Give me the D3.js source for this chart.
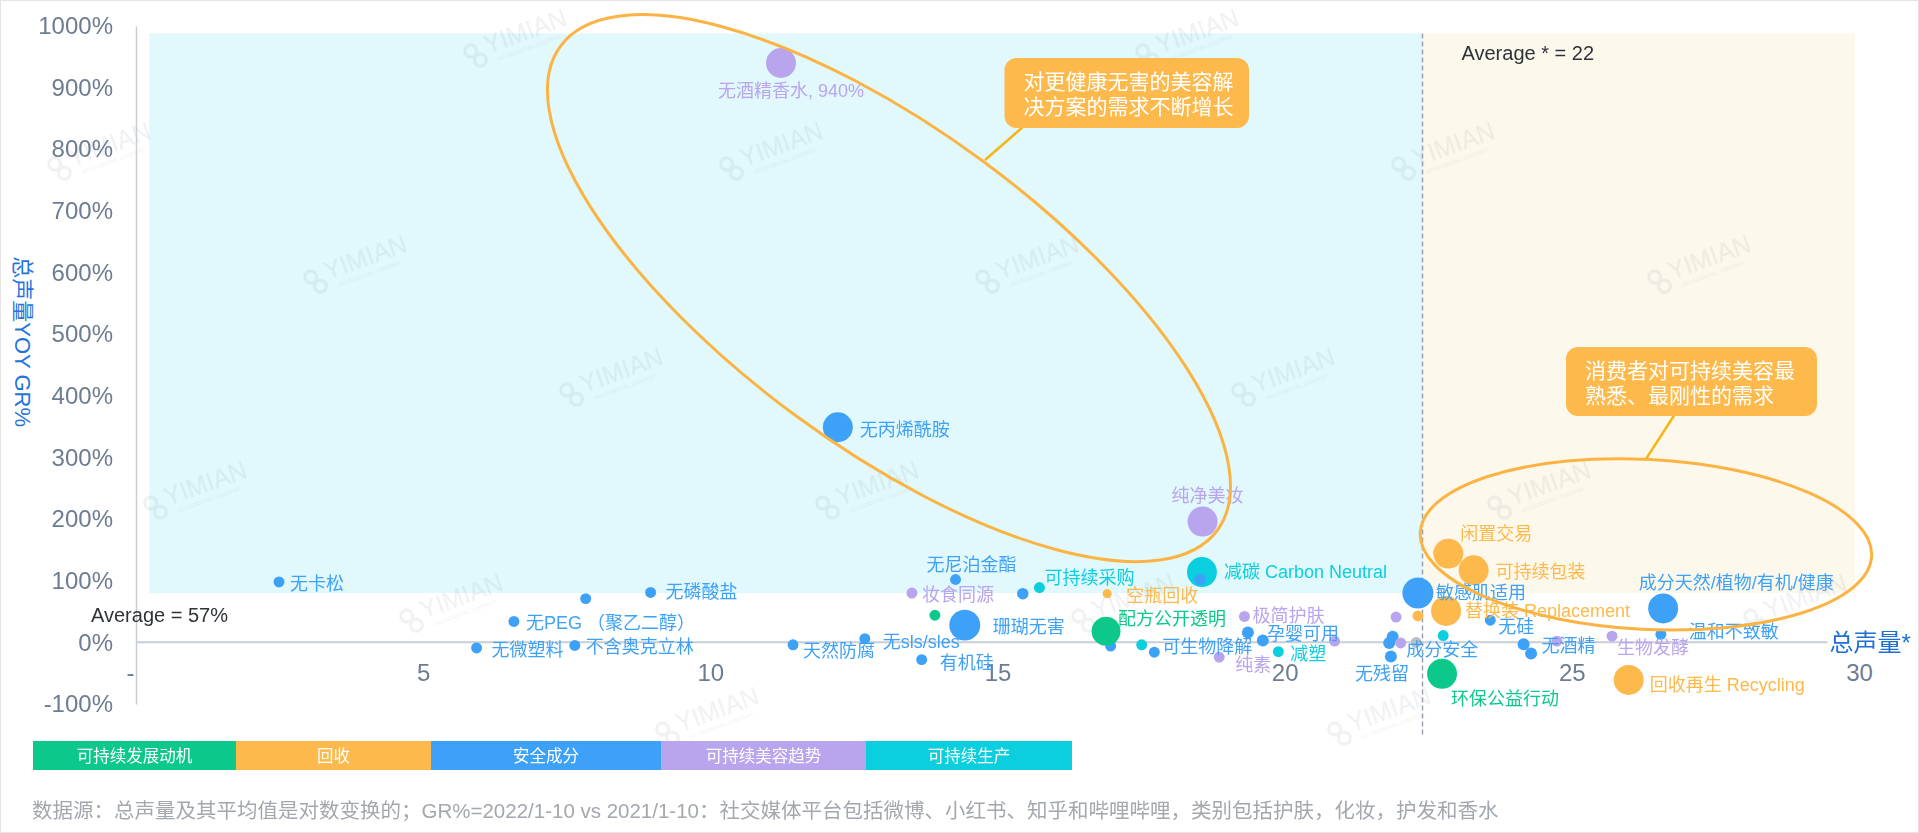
<!DOCTYPE html>
<html>
<head>
<meta charset="utf-8">
<script src="https://cdn.jsdelivr.net/npm/d3@7"></script>
<style>
  body { margin: 0; background: #fff; }
  svg { display: block; font-family: "Liberation Sans", "Noto Sans CJK SC", sans-serif; }
</style>
</head>
<body>
<div id="chart"></div>
<script>

// categories (legend order) + an unlisted grey one
const categories = ["可持续发展动机", "回收", "安全成分", "可持续美容趋势", "可持续生产", "其他"];
const catColors = ["#0cc98b", "#fdb94b", "#3ea1f8", "#b9a4ee", "#0bcfdf", "#b9bec7"];

// one entry per bubble
const names = [
  "无卡松", "", "无磷酸盐", "无PEG （聚乙二醇）", "无微塑料", "不含奥克立林", "天然防腐", "无sls/sles", "有机硅",
  "无酒精香水, 940%", "无丙烯酰胺", "纯净美妆", "减碳 Carbon Neutral", "", "无尼泊金酯", "可持续采购", "",
  "妆食同源", "", "珊瑚无害", "空瓶回收", "", "配方公开透明", "", "可生物降解", "极简护肤", "孕婴可用", "",
  "纯素", "减塑", "", "", "", "敏感肌适用", "", "成分安全", "无残留", "", "", "", "环保公益行动",
  "闲置交易", "可持续包装", "替换装 Replacement", "无硅", "无酒精", "", "", "生物发酵",
  "回收再生 Recycling", "成分天然/植物/有机/健康", "温和不致敏"
];
// 总声量* (log transformed)
const volume = [
  2.49, 7.83, 8.96, 6.58, 5.93, 7.64, 11.44, 12.69, 13.68,
  11.23, 12.22, 18.57, 18.56, 18.53, 14.27, 15.73, 15.44,
  13.51, 13.91, 14.43, 16.91, 16.97, 16.89, 17.51, 17.73, 19.30, 19.36, 19.62,
  18.86, 19.89, 20.87, 21.94, 22.32, 22.32, 21.88, 21.82, 21.85, 22.02, 22.29, 22.76, 22.74,
  22.85, 23.29, 22.81, 23.58, 24.16, 24.29, 24.74, 25.70,
  25.99, 26.59, 26.55
];
// 总声量YOY GR%
const growth = [
  98, 71, 81, 34, -9, -5, -4, 6, -28,
  940, 349, 196, 114, 102, 102, 89, 79,
  80, 44, 28, 79, -6, 18, -4, -16, 42, 16, 3,
  -24, -15, 2, 41, 43, 80, 9, -1, -23, -1, 0, 11, -51,
  144, 117, 51, 36, -3, -18, 2, 10,
  -61, 55, 13
];
// relative bubble size
const bubble = [
  1, 1, 1, 1, 1, 1, 1, 1, 1,
  7.5, 7.5, 7.5, 7.5, 1.1, 1, 1, 1.1,
  1, 1, 8, 0.7, 1, 7, 1, 1, 1, 1.2, 1.2,
  1, 1, 1, 1, 1, 8, 1.2, 1.2, 1.2, 1, 1, 1, 7.5,
  7.5, 7.5, 7.5, 1, 1.2, 1.2, 1, 1,
  7.5, 7.5, 1
];
const cats = [
  2, 2, 2, 2, 2, 2, 2, 2, 2,
  3, 2, 3, 4, 2, 2, 4, 2,
  3, 0, 2, 1, 2, 0, 4, 2, 3, 2, 2,
  3, 4, 3, 3, 1, 2, 2, 2, 2, 3, 5, 4, 0,
  1, 1, 1, 2, 2, 2, 3, 3,
  1, 2, 2
];

const xTicks = [0, 5, 10, 15, 20, 25, 30];
const yTicks = [-100, 0, 100, 200, 300, 400, 500, 600, 700, 800, 900, 1000];
const avgVolume = 22.4, avgGrowth = 57;

const callouts = [
  ["对更健康无害的美容解", "决方案的需求不断增长"],
  ["消费者对可持续美容最", "熟悉、最刚性的需求"]
];
const footnote = "数据源：总声量及其平均值是对数变换的；GR%=2022/1-10 vs 2021/1-10：社交媒体平台包括微博、小红书、知乎和哔哩哔哩，类别包括护肤，化妆，护发和香水";

// label placement (dx, dy from bubble centre, anchor) - layout only
const labelPos = {
  0: [11, 2, "start"], 2: [15, 0, "start"], 3: [12, 2, "start"], 4: [15, 2, "start"], 5: [11, 2, "start"],
  6: [10, 6, "start"], 7: [18, 3, "start"], 8: [18, 3, "start"], 9: [10, 28, "middle"], 10: [22, 3, "start"],
  11: [5, -26, "middle"], 12: [22, 0, "start"], 14: [16, -14, "middle"], 15: [5, -10, "start"],
  17: [10, 2, "start"], 19: [28, 2, "start"], 20: [19, 2, "start"], 22: [12, -12, "start"],
  24: [8, -5, "start"], 25: [8, 0, "start"], 26: [19, 1, "start"], 28: [16, 8, "start"], 29: [12, 2, "start"],
  33: [18, 0, "start"], 35: [17, 7, "start"], 36: [-9, 17, "middle"], 40: [9, 25, "start"],
  41: [12, -20, "start"], 42: [22, 2, "start"], 43: [19, 0, "start"], 44: [8, 7, "start"],
  45: [18, 2, "start"], 48: [5, 12, "start"], 49: [21, 5, "start"], 50: [73, -25, "middle"], 51: [28, -2, "start"]
};

const W = 1919, H = 833;
const svg = d3.select("#chart").append("svg")
  .attr("width", W)
  .attr("height", H);

const x = d3.scaleLinear().domain([0, 30]).range([136, 1859]);
const y = d3.scaleLinear().domain([-100, 1000]).range([704, 26]);
const r = d3.scaleSqrt().domain([0, 10]).range([0, 17.3]);

// quadrant shading
svg.append("rect")
  .attr("x", x(0.23)).attr("y", y(988))
  .attr("width", x(avgVolume) - x(0.23)).attr("height", y(80) - y(988))
  .attr("fill", "#e1f9fc");
svg.append("rect")
  .attr("x", x(avgVolume)).attr("y", y(988))
  .attr("width", x(29.93) - x(avgVolume)).attr("height", y(80) - y(988))
  .attr("fill", "#fdf8ec");

// watermarks (only the ones that fit fully inside)
const wm = svg.append("g").attr("opacity", 0.16);
for (let row = 0; row < 8; row++) {
  let x0 = (510 + 256 * row) % 672;
  let wy = 42 + 113 * row;
  for (let wx = x0; wx < W; wx += 672) {
    if (wx < 60 || wx > W - 80 || wy > H - 40) continue;
    const g = wm.append("g").attr("transform", `translate(${wx},${wy}) rotate(-20)`);
    g.append("circle").attr("cx", -40).attr("cy", -5).attr("r", 6).attr("fill", "none").attr("stroke", "#9aa4ae").attr("stroke-width", 3);
    g.append("circle").attr("cx", -34).attr("cy", 7).attr("r", 6).attr("fill", "none").attr("stroke", "#9aa4ae").attr("stroke-width", 3);
    g.append("text").attr("x", -25).attr("y", 4).attr("font-size", 25).attr("fill", "#9aa4ae").text("YIMIAN");
    g.append("text").attr("x", -18).attr("y", 14).attr("font-size", 5.5).attr("fill", "#9aa4ae").text("AN ASCENTIAL COMPANY");
  }
}

// average line
svg.append("line")
  .attr("x1", x(avgVolume)).attr("x2", x(avgVolume))
  .attr("y1", y(988)).attr("y2", y(-154))
  .attr("stroke", "#9aa3ad").attr("stroke-width", 1.5)
  .attr("stroke-dasharray", "5,3");

// axes
const yAxis = svg.append("g")
  .attr("transform", `translate(${x(0)},0)`)
  .call(d3.axisLeft(y).tickValues(yTicks).tickSize(0).tickSizeOuter(0).tickPadding(23).tickFormat(d => d + "%"));
yAxis.select(".domain").attr("stroke", "#c8ced6").attr("stroke-width", 1.5);
yAxis.selectAll("text").attr("font-size", 24).attr("fill", "#6e7c91").attr("font-family", "Liberation Sans, sans-serif");

svg.append("line")
  .attr("x1", x(0)).attr("x2", x(29.45))
  .attr("y1", y(0)).attr("y2", y(0))
  .attr("stroke", "#c8ced6").attr("stroke-width", 2);

const xAxis = svg.append("g")
  .attr("transform", `translate(0,${y(0)})`)
  .call(d3.axisBottom(x).tickValues(xTicks).tickSize(0).tickPadding(22).tickFormat(d => d === 0 ? "-" : d));
xAxis.select(".domain").remove();
xAxis.selectAll("text").attr("font-size", 24).attr("fill", "#6e7c91")
  .attr("dx", d => d === 0 ? -6 : 0);

svg.append("text")
  .attr("x", x(29.45) + 2).attr("y", y(0))
  .attr("dominant-baseline", "central")
  .attr("font-size", 24).attr("fill", "#1d6fd6")
  .text("总声量*");

svg.append("text")
  .attr("transform", `translate(22,${y(488)}) rotate(90)`)
  .attr("text-anchor", "middle").attr("dominant-baseline", "central")
  .attr("font-size", 22).attr("fill", "#1f74dd")
  .text("总声量YOY GR%");

svg.append("text")
  .attr("x", x(avgVolume) + 39).attr("y", y(956))
  .attr("dominant-baseline", "central")
  .attr("font-size", 20).attr("fill", "#2f3338")
  .text("Average * = 22");
svg.append("text")
  .attr("x", 91).attr("y", y(avgGrowth) + 8)
  .attr("dominant-baseline", "central")
  .attr("font-size", 20).attr("fill", "#2f3338")
  .text("Average = " + avgGrowth + "%");

// bubbles
const idx = d3.range(names.length);
svg.append("g").selectAll("circle")
  .data(idx)
  .join("circle")
  .attr("cx", i => x(volume[i]))
  .attr("cy", i => y(growth[i]))
  .attr("r", i => r(bubble[i]))
  .attr("fill", i => catColors[cats[i]]);

// labels
svg.append("g").selectAll("text")
  .data(idx.filter(i => names[i] !== ""))
  .join("text")
  .attr("x", i => x(volume[i]) + labelPos[i][0])
  .attr("y", i => y(growth[i]) + labelPos[i][1])
  .attr("text-anchor", i => labelPos[i][2])
  .attr("dominant-baseline", "central")
  .attr("font-size", 18)
  .attr("fill", i => catColors[cats[i]])
  .text(i => names[i]);

// highlight ellipses
svg.append("ellipse")
  .attr("transform", `translate(${x(13.11)},${y(574.7)}) rotate(36.4)`)
  .attr("rx", 408).attr("ry", 158)
  .attr("fill", "none").attr("stroke", "#fbb444").attr("stroke-width", 3);
svg.append("ellipse")
  .attr("transform", `translate(${x(26.29)},${y(159)}) rotate(3)`)
  .attr("rx", 226).attr("ry", 85)
  .attr("fill", "none").attr("stroke", "#fbb444").attr("stroke-width", 3);

// callouts
svg.append("line").attr("x1", 1024).attr("y1", 126).attr("x2", 985).attr("y2", 160)
  .attr("stroke", "#f6b616").attr("stroke-width", 2.5);
svg.append("line").attr("x1", 1675).attr("y1", 414).attr("x2", 1646).attr("y2", 459)
  .attr("stroke", "#f6b616").attr("stroke-width", 2.5);

const boxes = [[1004.5, 58, 244.5, 70], [1566, 347, 251, 69]];
boxes.forEach((b, k) => {
  svg.append("rect")
    .attr("x", b[0]).attr("y", b[1]).attr("width", b[2]).attr("height", b[3])
    .attr("rx", 12).attr("fill", "#fdb94b");
  callouts[k].forEach((line, j) => {
    svg.append("text")
      .attr("x", b[0] + 19).attr("y", b[1] + 23 + j * 25)
      .attr("dominant-baseline", "central")
      .attr("font-size", 21).attr("fill", "#fff")
      .text(line);
  });
});

// legend bar
const legendW = [203, 195, 230, 205, 206];
let lx = 33;
categories.slice(0, 5).forEach((c, k) => {
  svg.append("rect")
    .attr("x", lx).attr("y", 741).attr("width", legendW[k]).attr("height", 29)
    .attr("fill", catColors[k]);
  svg.append("text")
    .attr("x", lx + legendW[k] / 2).attr("y", 755.5)
    .attr("text-anchor", "middle").attr("dominant-baseline", "central")
    .attr("font-size", 16.5).attr("fill", "#fff")
    .text(c);
  lx += legendW[k];
});

svg.append("text")
  .attr("x", 32).attr("y", 810)
  .attr("dominant-baseline", "central")
  .attr("font-size", 20.5).attr("fill", "#a3a8ae")
  .text(footnote);

svg.append("rect")
  .attr("x", 0.5).attr("y", 0.5).attr("width", W - 1).attr("height", H - 1)
  .attr("fill", "none").attr("stroke", "#e4e4e4");

</script>
</body>
</html>
